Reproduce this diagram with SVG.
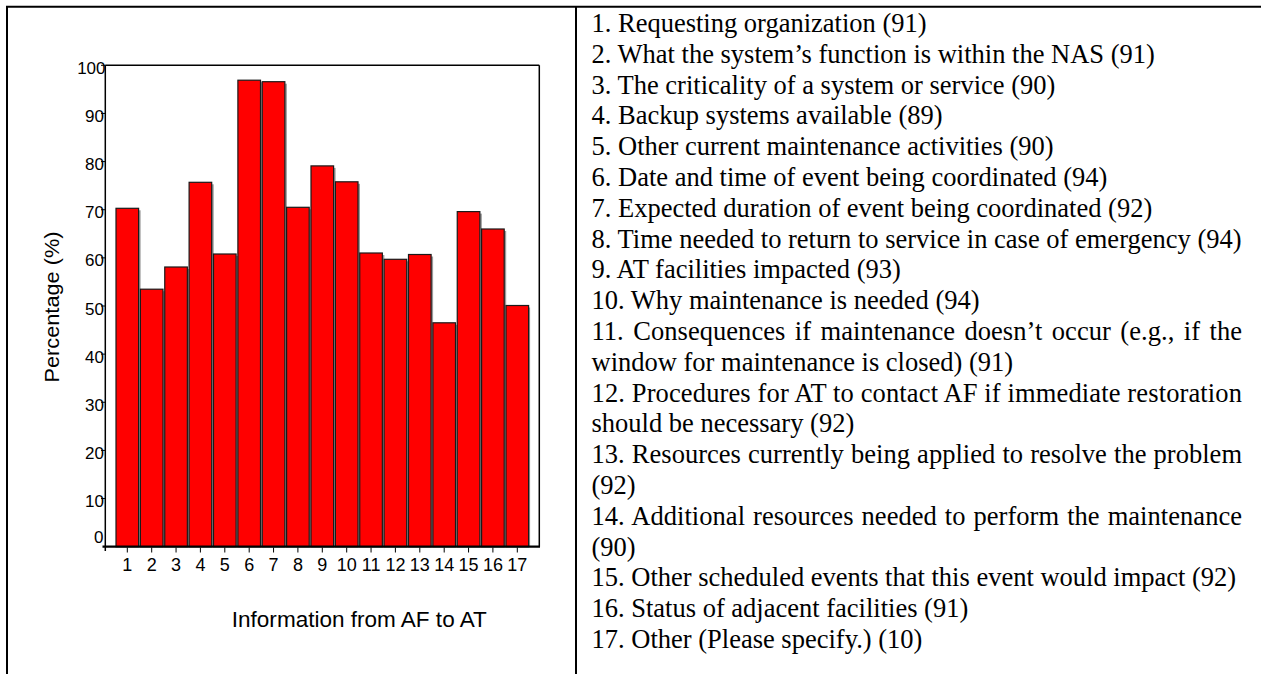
<svg xmlns="http://www.w3.org/2000/svg" width="1261" height="674" viewBox="0 0 1261 674">
<style>
.frame{stroke:#000;stroke-width:2;fill:none}
.axis{stroke:#000;stroke-width:1.5;fill:none}
.tick{stroke:#000;stroke-width:1}
.bar{fill:#ff0000;stroke:#1a1a1a;stroke-width:1.2}
.shadow{fill:#9a9a9a}
.ylab{font-family:"Liberation Sans",Arial,sans-serif;font-size:17px;fill:#000;text-anchor:end}
.xlab{font-family:"Liberation Sans",Arial,sans-serif;font-size:18px;fill:#000;text-anchor:middle}
.title{font-family:"Liberation Sans",Arial,sans-serif;fill:#000;text-anchor:middle}
.item{font-family:"Liberation Serif","Times New Roman",serif;font-size:26.5px;fill:#000}
</style>
<rect width="1261" height="674" fill="#fff"/>
<g id="table-frame">
<line class="frame" x1="6" y1="6.7" x2="1261" y2="6.7"/>
<line class="frame" x1="7" y1="6" x2="7" y2="674"/>
<line class="frame" x1="576" y1="6" x2="576" y2="674"/>
</g>
<g id="chart">
<g id="bars">
<rect class="shadow" x="138.6" y="210.3" width="2" height="336.4"/>
<rect id="bar1" class="bar" x="116" y="208.3" width="22.6" height="338.4"/>
<rect class="shadow" x="163" y="291.2" width="2" height="255.5"/>
<rect id="bar2" class="bar" x="140.4" y="289.2" width="22.6" height="257.5"/>
<rect class="shadow" x="187.35" y="269" width="2" height="277.7"/>
<rect id="bar3" class="bar" x="164.75" y="267" width="22.6" height="279.7"/>
<rect class="shadow" x="211.7" y="184.3" width="2" height="362.4"/>
<rect id="bar4" class="bar" x="189.1" y="182.3" width="22.6" height="364.4"/>
<rect class="shadow" x="236.1" y="256" width="2" height="290.7"/>
<rect id="bar5" class="bar" x="213.5" y="254" width="22.6" height="292.7"/>
<rect class="shadow" x="260.5" y="82.2" width="2" height="464.5"/>
<rect id="bar6" class="bar" x="237.9" y="80.2" width="22.6" height="466.5"/>
<rect class="shadow" x="284.85" y="83.7" width="2" height="463"/>
<rect id="bar7" class="bar" x="262.25" y="81.7" width="22.6" height="465"/>
<rect class="shadow" x="309.2" y="209.3" width="2" height="337.4"/>
<rect id="bar8" class="bar" x="286.6" y="207.3" width="22.6" height="339.4"/>
<rect class="shadow" x="333.6" y="167.9" width="2" height="378.8"/>
<rect id="bar9" class="bar" x="311" y="165.9" width="22.6" height="380.8"/>
<rect class="shadow" x="358" y="183.8" width="2" height="362.9"/>
<rect id="bar10" class="bar" x="335.4" y="181.8" width="22.6" height="364.9"/>
<rect class="shadow" x="382.35" y="255" width="2" height="291.7"/>
<rect id="bar11" class="bar" x="359.75" y="253" width="22.6" height="293.7"/>
<rect class="shadow" x="406.7" y="261.3" width="2" height="285.4"/>
<rect id="bar12" class="bar" x="384.1" y="259.3" width="22.6" height="287.4"/>
<rect class="shadow" x="431.1" y="256.5" width="2" height="290.2"/>
<rect id="bar13" class="bar" x="408.5" y="254.5" width="22.6" height="292.2"/>
<rect class="shadow" x="455.5" y="324.8" width="2" height="221.9"/>
<rect id="bar14" class="bar" x="432.9" y="322.8" width="22.6" height="223.9"/>
<rect class="shadow" x="479.85" y="213.6" width="2" height="333.1"/>
<rect id="bar15" class="bar" x="457.25" y="211.6" width="22.6" height="335.1"/>
<rect class="shadow" x="504.2" y="231" width="2" height="315.7"/>
<rect id="bar16" class="bar" x="481.6" y="229" width="22.6" height="317.7"/>
<rect class="shadow" x="528.6" y="307.5" width="1.5" height="239.2"/>
<rect id="bar17" class="bar" x="506" y="305.5" width="22.6" height="241.2"/>
</g>
<g id="axes">
<line class="axis" x1="105.3" y1="65.3" x2="105.3" y2="551"/>
<line class="axis" x1="105.3" y1="65.3" x2="539.3" y2="65.3"/>
<line class="axis" x1="539.3" y1="65.3" x2="539.3" y2="546.7"/>
<line x1="102.5" y1="546.7" x2="540" y2="546.7" stroke="#000" stroke-width="2.2"/>
<g class="tick">
<line x1="101" y1="498.56" x2="105.3" y2="498.56"/>
<line x1="101" y1="450.42" x2="105.3" y2="450.42"/>
<line x1="101" y1="402.28" x2="105.3" y2="402.28"/>
<line x1="101" y1="354.14" x2="105.3" y2="354.14"/>
<line x1="101" y1="306" x2="105.3" y2="306"/>
<line x1="101" y1="257.86" x2="105.3" y2="257.86"/>
<line x1="101" y1="209.72" x2="105.3" y2="209.72"/>
<line x1="101" y1="161.58" x2="105.3" y2="161.58"/>
<line x1="101" y1="113.44" x2="105.3" y2="113.44"/>
<line x1="101" y1="65.3" x2="105.3" y2="65.3"/>
<line x1="127.3" y1="547.5" x2="127.3" y2="552.5"/>
<line x1="151.7" y1="547.5" x2="151.7" y2="552.5"/>
<line x1="176.05" y1="547.5" x2="176.05" y2="552.5"/>
<line x1="200.4" y1="547.5" x2="200.4" y2="552.5"/>
<line x1="224.8" y1="547.5" x2="224.8" y2="552.5"/>
<line x1="249.2" y1="547.5" x2="249.2" y2="552.5"/>
<line x1="273.55" y1="547.5" x2="273.55" y2="552.5"/>
<line x1="297.9" y1="547.5" x2="297.9" y2="552.5"/>
<line x1="322.3" y1="547.5" x2="322.3" y2="552.5"/>
<line x1="346.7" y1="547.5" x2="346.7" y2="552.5"/>
<line x1="371.05" y1="547.5" x2="371.05" y2="552.5"/>
<line x1="395.4" y1="547.5" x2="395.4" y2="552.5"/>
<line x1="419.8" y1="547.5" x2="419.8" y2="552.5"/>
<line x1="444.2" y1="547.5" x2="444.2" y2="552.5"/>
<line x1="468.55" y1="547.5" x2="468.55" y2="552.5"/>
<line x1="492.9" y1="547.5" x2="492.9" y2="552.5"/>
<line x1="517.3" y1="547.5" x2="517.3" y2="552.5"/>
</g>
</g>
<g id="y-tick-labels">
<text class="ylab" x="103.5" y="543.3">0</text>
<text class="ylab" x="104" y="507">10</text>
<text class="ylab" x="104" y="458.9">20</text>
<text class="ylab" x="104" y="410.8">30</text>
<text class="ylab" x="104" y="362.6">40</text>
<text class="ylab" x="104" y="314.5">50</text>
<text class="ylab" x="104" y="266.4">60</text>
<text class="ylab" x="104" y="218.2">70</text>
<text class="ylab" x="104" y="170.1">80</text>
<text class="ylab" x="104" y="121.9">90</text>
<text class="ylab" x="105.5" y="73.6">100</text>
</g>
<g id="x-tick-labels">
<text class="xlab" x="127.3" y="570.5">1</text>
<text class="xlab" x="151.7" y="570.5">2</text>
<text class="xlab" x="176.05" y="570.5">3</text>
<text class="xlab" x="200.4" y="570.5">4</text>
<text class="xlab" x="224.8" y="570.5">5</text>
<text class="xlab" x="249.2" y="570.5">6</text>
<text class="xlab" x="273.55" y="570.5">7</text>
<text class="xlab" x="297.9" y="570.5">8</text>
<text class="xlab" x="322.3" y="570.5">9</text>
<text class="xlab" x="346.7" y="570.5">10</text>
<text class="xlab" x="371.05" y="570.5">11</text>
<text class="xlab" x="395.4" y="570.5">12</text>
<text class="xlab" x="419.8" y="570.5">13</text>
<text class="xlab" x="444.2" y="570.5">14</text>
<text class="xlab" x="468.55" y="570.5">15</text>
<text class="xlab" x="492.9" y="570.5">16</text>
<text class="xlab" x="517.3" y="570.5">17</text>
</g>
<text id="x-title" class="title" x="359.3" y="627" font-size="21.5" textLength="255" lengthAdjust="spacingAndGlyphs">Information from AF to AT</text>
<text id="y-title" class="title" transform="translate(58.7,307) rotate(-90)" x="0" y="0" font-size="20.5" textLength="151" lengthAdjust="spacingAndGlyphs">Percentage (%)</text>
</g>
<g id="legend">
<text class="item" x="591.5" y="32">1. Requesting organization (91)</text>
<text class="item" x="591.5" y="62.8">2. What the system’s function is within the NAS (91)</text>
<text class="item" x="591.5" y="93.6">3. The criticality of a system or service (90)</text>
<text class="item" x="591.5" y="124.4">4. Backup systems available (89)</text>
<text class="item" x="591.5" y="155.2">5. Other current maintenance activities (90)</text>
<text class="item" x="591.5" y="186">6. Date and time of event being coordinated (94)</text>
<text class="item" x="591.5" y="216.8">7. Expected duration of event being coordinated (92)</text>
<text class="item" x="591.5" y="247.6">8. Time needed to return to service in case of emergency (94)</text>
<text class="item" x="591.5" y="278.4">9. AT facilities impacted (93)</text>
<text class="item" x="591.5" y="309.2">10. Why maintenance is needed (94)</text>
<text class="item" x="591.5" y="340" word-spacing="2.8" textLength="650.5" lengthAdjust="spacing">11. Consequences if maintenance doesn’t occur (e.g., if the</text>
<text class="item" x="591.5" y="370.8">window for maintenance is closed) (91)</text>
<text class="item" x="591.5" y="401.6" textLength="650.5" lengthAdjust="spacing">12. Procedures for AT to contact AF if immediate restoration</text>
<text class="item" x="591.5" y="432.4">should be necessary (92)</text>
<text class="item" x="591.5" y="463.2" word-spacing="0.5" textLength="650.5" lengthAdjust="spacing">13. Resources currently being applied to resolve the problem</text>
<text class="item" x="591.5" y="494">(92)</text>
<text class="item" x="591.5" y="524.8" word-spacing="1.3" textLength="650.5" lengthAdjust="spacing">14. Additional resources needed to perform the maintenance</text>
<text class="item" x="591.5" y="555.6">(90)</text>
<text class="item" x="591.5" y="586.4">15. Other scheduled events that this event would impact (92)</text>
<text class="item" x="591.5" y="617.2">16. Status of adjacent facilities (91)</text>
<text class="item" x="591.5" y="648">17. Other (Please specify.) (10)</text>
</g>
</svg>
